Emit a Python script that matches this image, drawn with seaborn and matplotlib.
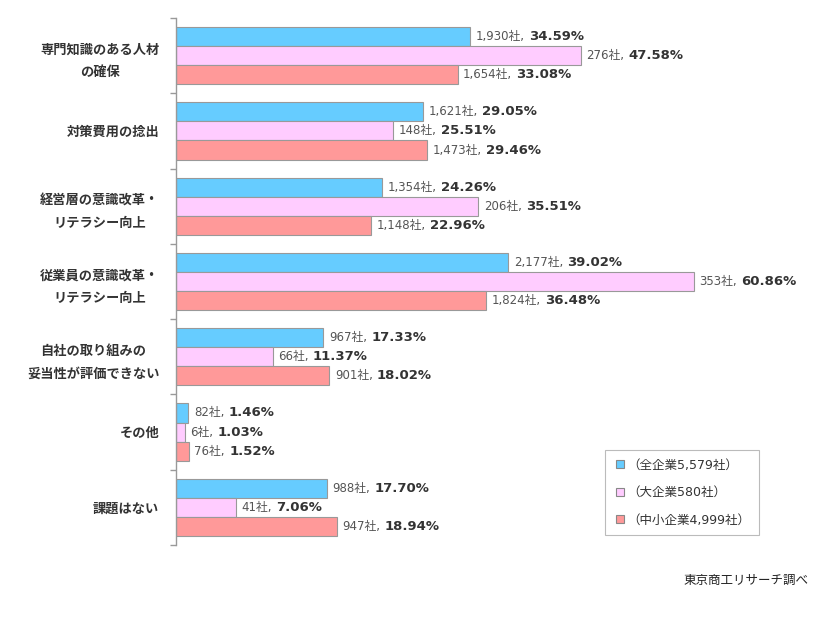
import numpy as np
import pandas as pd
import matplotlib
matplotlib.use("Agg")
import matplotlib.pyplot as plt
from matplotlib.lines import Line2D
import seaborn as sns

# Data
categories = [
    "専門知識のある人材\nの確保",
    "対策費用の捻出",
    "経営層の意識改革・\nリテラシー向上",
    "従業員の意識改革・\nリテラシー向上",
    "自社の取り組みの\n妥当性が評価できない",
    "その他",
    "課題はない",
]
groups = ["（全企業5,579社）", "（大企業580社）", "（中小企業4,999社）"]
all_counts = [1930, 1621, 1354, 2177, 967, 82, 988]
all_pct = [34.59, 29.05, 24.26, 39.02, 17.33, 1.46, 17.70]
large_counts = [276, 148, 206, 353, 66, 6, 41]
large_pct = [47.58, 25.51, 35.51, 60.86, 11.37, 1.03, 7.06]
small_counts = [1654, 1473, 1148, 1824, 901, 76, 947]
small_pct = [33.08, 29.46, 22.96, 36.48, 18.02, 1.52, 18.94]
colors = ["#66CCFF", "#FFCCFF", "#FF9999"]
source = "東京商工リサーチ調べ"

counts = [all_counts, large_counts, small_counts]
pcts = [all_pct, large_pct, small_pct]

rows = []
for g, cs, ps in zip(groups, counts, pcts):
    for cat, c, p in zip(categories, cs, ps):
        rows.append({"cat": cat, "group": g, "count": c, "pct": p})
df = pd.DataFrame(rows)

sns.set_theme(style="white")
plt.rcParams["font.family"] = ["DejaVu Sans", "Noto Sans CJK JP"]

fig = plt.figure(figsize=(8.26, 6.2), dpi=100)
ax = fig.add_axes([176 / 826, 75 / 620, 600 / 826, 527 / 620])

sns.barplot(data=df, y="cat", x="pct", hue="group", palette=colors,
            saturation=1, orient="h", width=0.76, gap=0,
            edgecolor="#999999", linewidth=0.8, legend=False, ax=ax)

ax.set_xlim(0, 70.5)
ax.set_ylim(6.5, -0.5)
ax.set_xlabel("")
ax.set_ylabel("")
ax.set_xticks([])

# spines and boundary ticks
for s in ["top", "right", "bottom"]:
    ax.spines[s].set_visible(False)
ax.spines["left"].set_color("#999999")
ax.spines["left"].set_linewidth(1)
ax.set_yticks(np.arange(len(categories)))
ax.set_yticklabels(categories, fontweight="bold", fontsize=9.5,
                   color="#333333", linespacing=1.9, multialignment="center")
ax.set_yticks(np.arange(-0.5, len(categories)), minor=True)
ax.tick_params(axis="y", which="major", length=0, pad=12)
ax.tick_params(axis="y", which="minor", length=4, color="#999999",
               width=1, direction="out", left=True)

# value labels: "count社," in normal weight then bold percentage
for container, cs, ps in zip(ax.containers, counts, pcts):
    for patch, c, p in zip(container.patches, cs, ps):
        yc = patch.get_y() + patch.get_height() / 2
        t1 = ax.annotate(f"{c:,}社,", xy=(patch.get_width(), yc),
                         xytext=(4, 0), textcoords="offset points",
                         va="center", ha="left", fontsize=8.5, color="#555555")
        ax.annotate(f"{p:.2f}%", xy=(1, 0.5), xycoords=t1,
                    xytext=(3, 0), textcoords="offset points",
                    va="center", ha="left", fontsize=9.5,
                    fontweight="bold", color="#333333")

handles = [Line2D([], [], marker="s", linestyle="", markersize=6,
                  markerfacecolor=c, markeredgecolor="#888888",
                  markeredgewidth=0.8) for c in colors]
leg = ax.legend(handles, groups, loc="upper left",
                bbox_to_anchor=(605 / 826, 1 - 450 / 620),
                bbox_transform=fig.transFigure, frameon=True, fancybox=False,
                fontsize=9, labelspacing=1.15, handletextpad=0.1,
                borderpad=0.7, borderaxespad=0, handlelength=1.0)
leg.get_frame().set_edgecolor("#aaaaaa")
leg.get_frame().set_linewidth(0.8)
for t in leg.get_texts():
    t.set_color("#333333")

fig.text(808 / 826, 1 - 580 / 620, source, ha="right", va="center",
         fontsize=9, color="#222222")

fig.savefig("out.png", dpi=100)
